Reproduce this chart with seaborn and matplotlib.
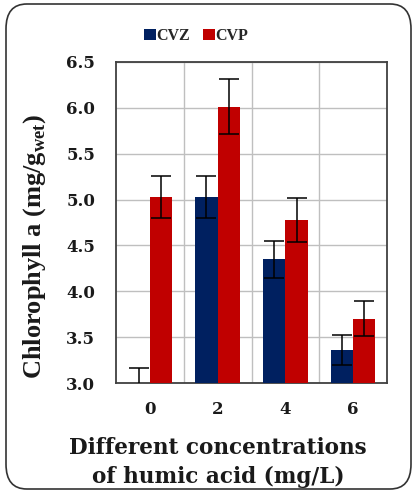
import matplotlib
matplotlib.use("Agg")
import matplotlib.pyplot as plt
from matplotlib.patches import FancyBboxPatch, Patch
import seaborn as sns
import pandas as pd
import numpy as np

categories = ["0", "2", "4", "6"]
cvz_values = [3.00, 5.03, 4.35, 3.36]
cvz_errors = [0.16, 0.23, 0.20, 0.165]
cvp_values = [5.03, 6.01, 4.78, 3.70]
cvp_errors = [0.23, 0.30, 0.24, 0.19]
series = ["CVZ", "CVP"]
colors = ["#002060", "#C00000"]

df = pd.DataFrame({
    "conc": categories * 2,
    "series": ["CVZ"] * 4 + ["CVP"] * 4,
    "value": cvz_values + cvp_values,
})

sns.set_theme(style="white")
plt.rcParams["font.family"] = ["Liberation Serif", "DejaVu Serif"]
plt.rcParams["font.weight"] = "bold"
plt.rcParams["mathtext.fontset"] = "custom"
plt.rcParams["mathtext.rm"] = "Liberation Serif"
plt.rcParams["mathtext.bf"] = "Liberation Serif:bold"

TXT = "#1a1a1a"

fig = plt.figure(figsize=(4.16, 4.95), dpi=100)
fig.patch.set_facecolor("white")
ax = fig.add_axes([116 / 416, 112 / 495, 271 / 416, 321 / 495])

sns.barplot(data=df, x="conc", y="value", hue="series", order=categories,
            hue_order=series, palette=colors, width=0.66, dodge=True,
            errorbar=None, saturation=1, ax=ax, legend=False, zorder=3,
            linewidth=0)

errs = [cvz_errors, cvp_errors]
vals = [cvz_values, cvp_values]
bar_conts = list(ax.containers)
for ci, cont in enumerate(bar_conts):
    xs = [p.get_x() + p.get_width() / 2 for p in cont.patches]
    ax.errorbar(xs, vals[ci], yerr=errs[ci], fmt="none", ecolor="black",
                elinewidth=1.1, capsize=7, capthick=1.1, zorder=4)

ax.set_ylim(3.0, 6.5)
ax.set_xlim(-0.5, 3.5)
yt = np.arange(3.0, 6.51, 0.5)
ax.set_yticks(yt)
ax.set_yticklabels([f"{v:.1f}" for v in yt], fontsize=12, fontweight="bold",
                   family="DejaVu Serif")
ax.set_xticks(range(4))
ax.set_xticklabels(categories, fontsize=12, fontweight="bold", family="DejaVu Serif")
ax.set_xticks([0.5, 1.5, 2.5], minor=True)
ax.grid(False)
ax.yaxis.grid(True, color="#BFBFBF", linewidth=1.0, zorder=0)
ax.xaxis.grid(True, which="minor", color="#BFBFBF", linewidth=1.0, zorder=0)
ax.set_axisbelow(True)
ax.tick_params(axis="both", which="both", length=0, colors=TXT)
ax.tick_params(axis="y", pad=15)
ax.tick_params(axis="x", pad=13)
for s in ax.spines.values():
    s.set_color("#404040")
    s.set_linewidth(1.3)
    s.set_visible(True)

ax.set_xlabel("")
ax.set_ylabel(r"Chlorophyll a (mg/g$_{\mathbf{wet}}$)", fontsize=19,
              fontweight="bold", color=TXT)
ax.yaxis.set_label_coords(-0.25, 0.427)

fig.text(218 / 416, 1 - 448 / 495, "Different concentrations",
         ha="center", va="center", fontsize=15.5, fontweight="bold", color=TXT,
         family="DejaVu Serif")
fig.text(218 / 416, 1 - 477 / 495, "of humic acid (mg/L)",
         ha="center", va="center", fontsize=15.5, fontweight="bold", color=TXT,
         family="DejaVu Serif")

handles = [Patch(facecolor=c, edgecolor="none") for c in colors]
leg = fig.legend(handles, series, loc="center", bbox_to_anchor=(196 / 416, 1 - 36 / 495),
                 ncol=2, frameon=False, handlelength=0.75,
                 handleheight=0.75, handletextpad=0.05, columnspacing=0.8,
                 prop={"weight": "bold", "size": 11.5, "family": "Liberation Serif"})

border = FancyBboxPatch((6 / 416, 6 / 495), 405 / 416, 485 / 495,
                        boxstyle="round,pad=0,rounding_size=0.05",
                        transform=fig.transFigure, facecolor="none",
                        edgecolor="#333333", linewidth=1.2, zorder=10)
fig.patches.append(border)

fig.savefig("out.png", dpi=100, facecolor="white")
